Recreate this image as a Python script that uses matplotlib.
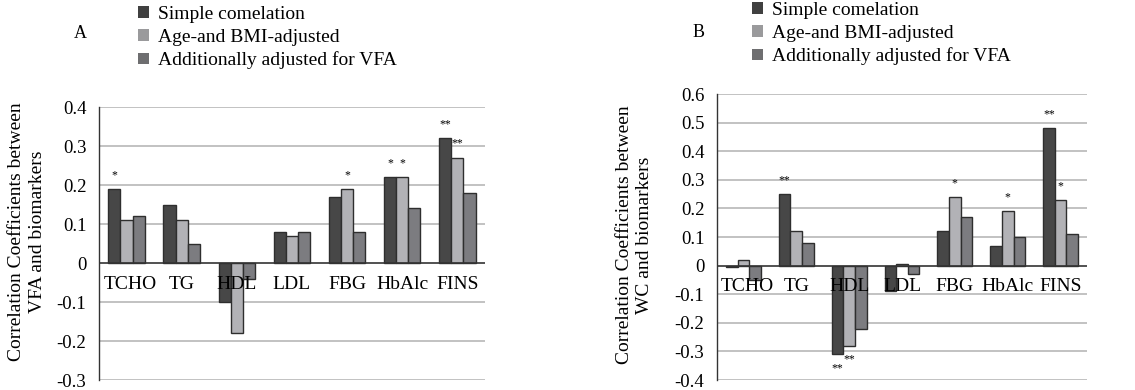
import matplotlib
matplotlib.use("Agg")
import matplotlib.pyplot as plt
from matplotlib.patches import Patch
import numpy as np

plt.rcParams['font.family'] = ['Liberation Serif', 'DejaVu Serif']

categories = ["TCHO", "TG", "HDL", "LDL", "FBG", "HbAlc", "FINS"]
series_names = ["Simple comelation", "Age-and BMI-adjusted", "Additionally adjusted for VFA"]

# panel A: VFA
vfa_simple = [0.19, 0.15, -0.10, 0.08, 0.17, 0.22, 0.32]
vfa_age_bmi = [0.11, 0.11, -0.18, 0.07, 0.19, 0.22, 0.27]
vfa_extra = [0.12, 0.05, -0.04, 0.08, 0.08, 0.14, 0.18]
vfa_stars = [["*", "", "", "", "", "*", "**"],
             ["", "", "", "", "*", "*", "**"],
             ["", "", "", "", "", "", ""]]

# panel B: WC
wc_simple = [-0.003, 0.25, -0.31, -0.09, 0.12, 0.07, 0.48]
wc_age_bmi = [0.02, 0.12, -0.28, 0.007, 0.24, 0.19, 0.23]
wc_extra = [-0.05, 0.08, -0.22, -0.03, 0.17, 0.10, 0.11]
wc_stars = [["", "**", "**", "", "", "", "**"],
            ["", "", "**", "", "*", "*", "*"],
            ["", "", "", "", "", "", ""]]

bar_colors = ["#474747", "#b2b2b6", "#7c7c80"]
legend_colors = ["#404040", "#9a9a9c", "#6e6e70"]


def draw_panel(ax, series, stars, ylim):
    x = np.arange(len(categories))
    w = 0.22
    for k, vals in enumerate(series):
        pos = x + (k - 1) * w
        ax.bar(pos, vals, width=w, color=bar_colors[k], edgecolor="#2e2e2e",
               linewidth=1.0, zorder=3)
        for p, v, s in zip(pos, vals, stars[k]):
            if not s:
                continue
            off = 10 if v >= 0 else -10
            ax.annotate(s, (p, v), xytext=(0, off), textcoords="offset points",
                        ha="center", va="center", fontsize=8.5, zorder=5)
    for i, c in enumerate(categories):
        ax.annotate(c, (i, 0), xytext=(3 if i == 0 else 0, -9), textcoords="offset points",
                    ha="center", va="top", fontsize=14, zorder=6)
    ax.set_xlim(-0.5, len(categories) - 0.5)
    ax.set_ylim(*ylim)
    ticks = np.round(np.arange(ylim[0], ylim[1] + 0.001, 0.1), 1)
    ax.set_yticks(ticks)
    ax.set_yticklabels(["0" if t == 0 else f"{t:.1f}" for t in ticks])
    ax.set_xticks([])
    ax.tick_params(axis="y", length=0, pad=9, labelsize=13.5)
    for t in ticks:
        if t == 0:
            ax.axhline(0, color="#333333", lw=1.2, zorder=4)
        else:
            ax.axhline(t, color="#b8b8b8", lw=1.2, zorder=1)
    for side in ["top", "right", "bottom"]:
        ax.spines[side].set_visible(False)
    ax.spines["left"].set_color("#333333")
    ax.spines["left"].set_linewidth(1.0)


fig = plt.figure(figsize=(11.35, 3.9), dpi=100)

ax_a = fig.add_axes([0.0872, 0.0256, 0.340, 0.700])
draw_panel(ax_a, [vfa_simple, vfa_age_bmi, vfa_extra], vfa_stars, (-0.3, 0.4))

ax_b = fig.add_axes([0.6317, 0.0256, 0.326, 0.733])
draw_panel(ax_b, [wc_simple, wc_age_bmi, wc_extra], wc_stars, (-0.4, 0.6))

fig.text(0.024, 0.405, "Correlation Coefficients between\nVFA and biomarkers",
         rotation=90, ha="center", va="center", ma="center", fontsize=14, linespacing=1.3)
fig.text(0.559, 0.397, "Correlation Coefficients between\nWC and biomarkers",
         rotation=90, ha="center", va="center", ma="center", fontsize=14, linespacing=1.3)

fig.text(0.0705, 0.915, "A", ha="center", va="center", fontsize=13)
fig.text(0.615, 0.917, "B", ha="center", va="center", fontsize=13)

handles = [Patch(facecolor=c, edgecolor="none") for c in legend_colors]
for x0, y0 in [(138 / 1135, 0.985), (752 / 1135, 0.995)]:
    fig.legend(handles, series_names, loc="upper left", bbox_to_anchor=(x0, y0),
               frameon=False, fontsize=14, handlelength=0.55, handleheight=0.55,
               handletextpad=0.5, labelspacing=0.3, borderpad=0, borderaxespad=0)

fig.savefig("out.png", dpi=100)
